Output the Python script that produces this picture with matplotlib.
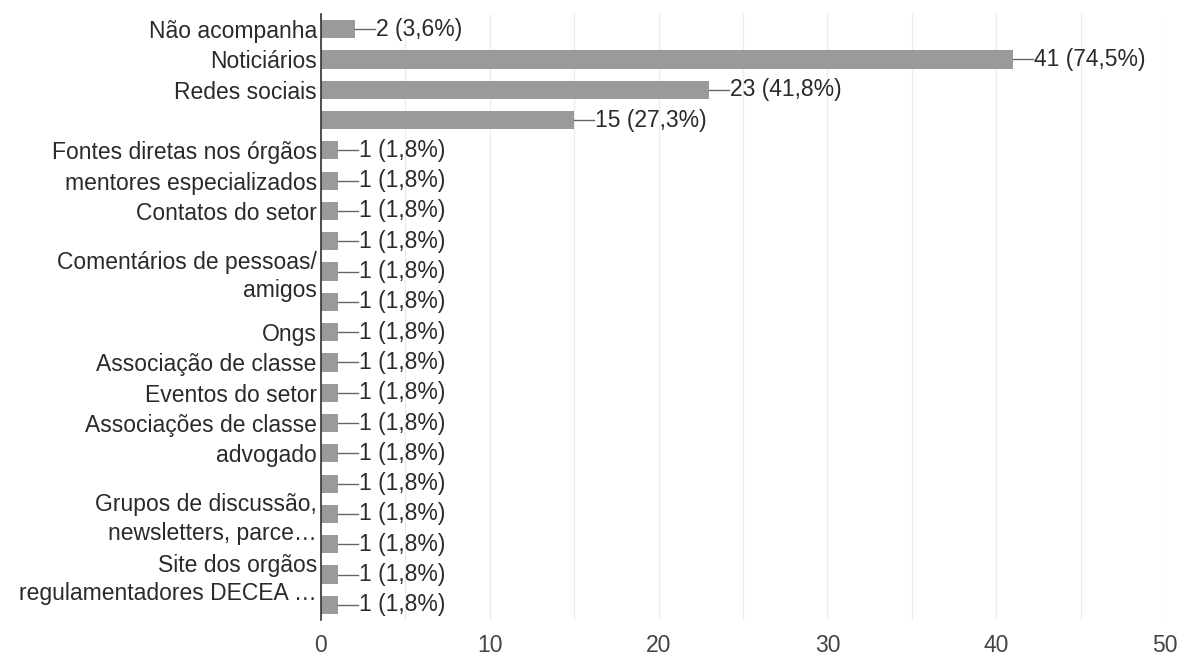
import matplotlib
matplotlib.use("Agg")
import matplotlib.pyplot as plt

# data
labels = [
    "Não acompanha", "Noticiários", "Redes sociais", "",
    "Fontes diretas nos órgãos", "mentores especializados", "Contatos do setor",
    "", "Comentários de pessoas/\namigos", "",
    "Ongs", "Associação de classe", "Eventos do setor", "Associações de classe",
    "advogado", "", "Grupos de discussão,\nnewsletters, parce…", "",
    "Site dos orgãos\nregulamentadores DECEA …", "",
]
counts = [2, 41, 23, 15] + [1] * 16
total = 55
xticks = [0, 10, 20, 30, 40, 50]

plt.rcParams['font.family'] = ['Liberation Sans', 'DejaVu Sans']

fig = plt.figure(figsize=(11.83, 6.57), dpi=100)
ax = fig.add_axes([0.2713, 0.0563, 0.7135, 0.9224])

y = list(range(len(counts)))
ax.barh(y, counts, height=0.6, color='#9a9a9a', zorder=3)

for yi, c in zip(y, counts):
    ax.plot([c, c + 1.2], [yi, yi], color='#666666', lw=1.0, zorder=3)
    pct = f"{100 * c / total:.1f}".replace('.', ',')
    ax.text(c + 1.25, yi, f"{c} ({pct}%)", va='center', ha='left',
            fontsize=16.5, color='#2a2a2a')

ax.set_ylim(len(counts) - 0.5, -0.5)
ax.set_xlim(0, 50)
ax.set_yticks(y)
ax.set_yticklabels(labels, fontsize=16.5, color='#2a2a2a', linespacing=1.3)
ax.set_xticks(xticks)
ax.set_xticklabels([str(t) for t in xticks], fontsize=16.5, color='#444444')
ax.set_xticks(range(5, 50, 10), minor=True)
ax.grid(axis='x', which='both', color='#ececec', lw=0.9, zorder=0)
ax.tick_params(axis='both', which='both', length=0)
ax.tick_params(axis='x', pad=10)
ax.tick_params(axis='y', pad=3)

for s in ['top', 'right', 'bottom']:
    ax.spines[s].set_visible(False)
ax.spines['left'].set_color('#333333')
ax.spines['left'].set_linewidth(1.2)
ax.spines['left'].set_zorder(4)

fig.savefig("out.png", dpi=100)
